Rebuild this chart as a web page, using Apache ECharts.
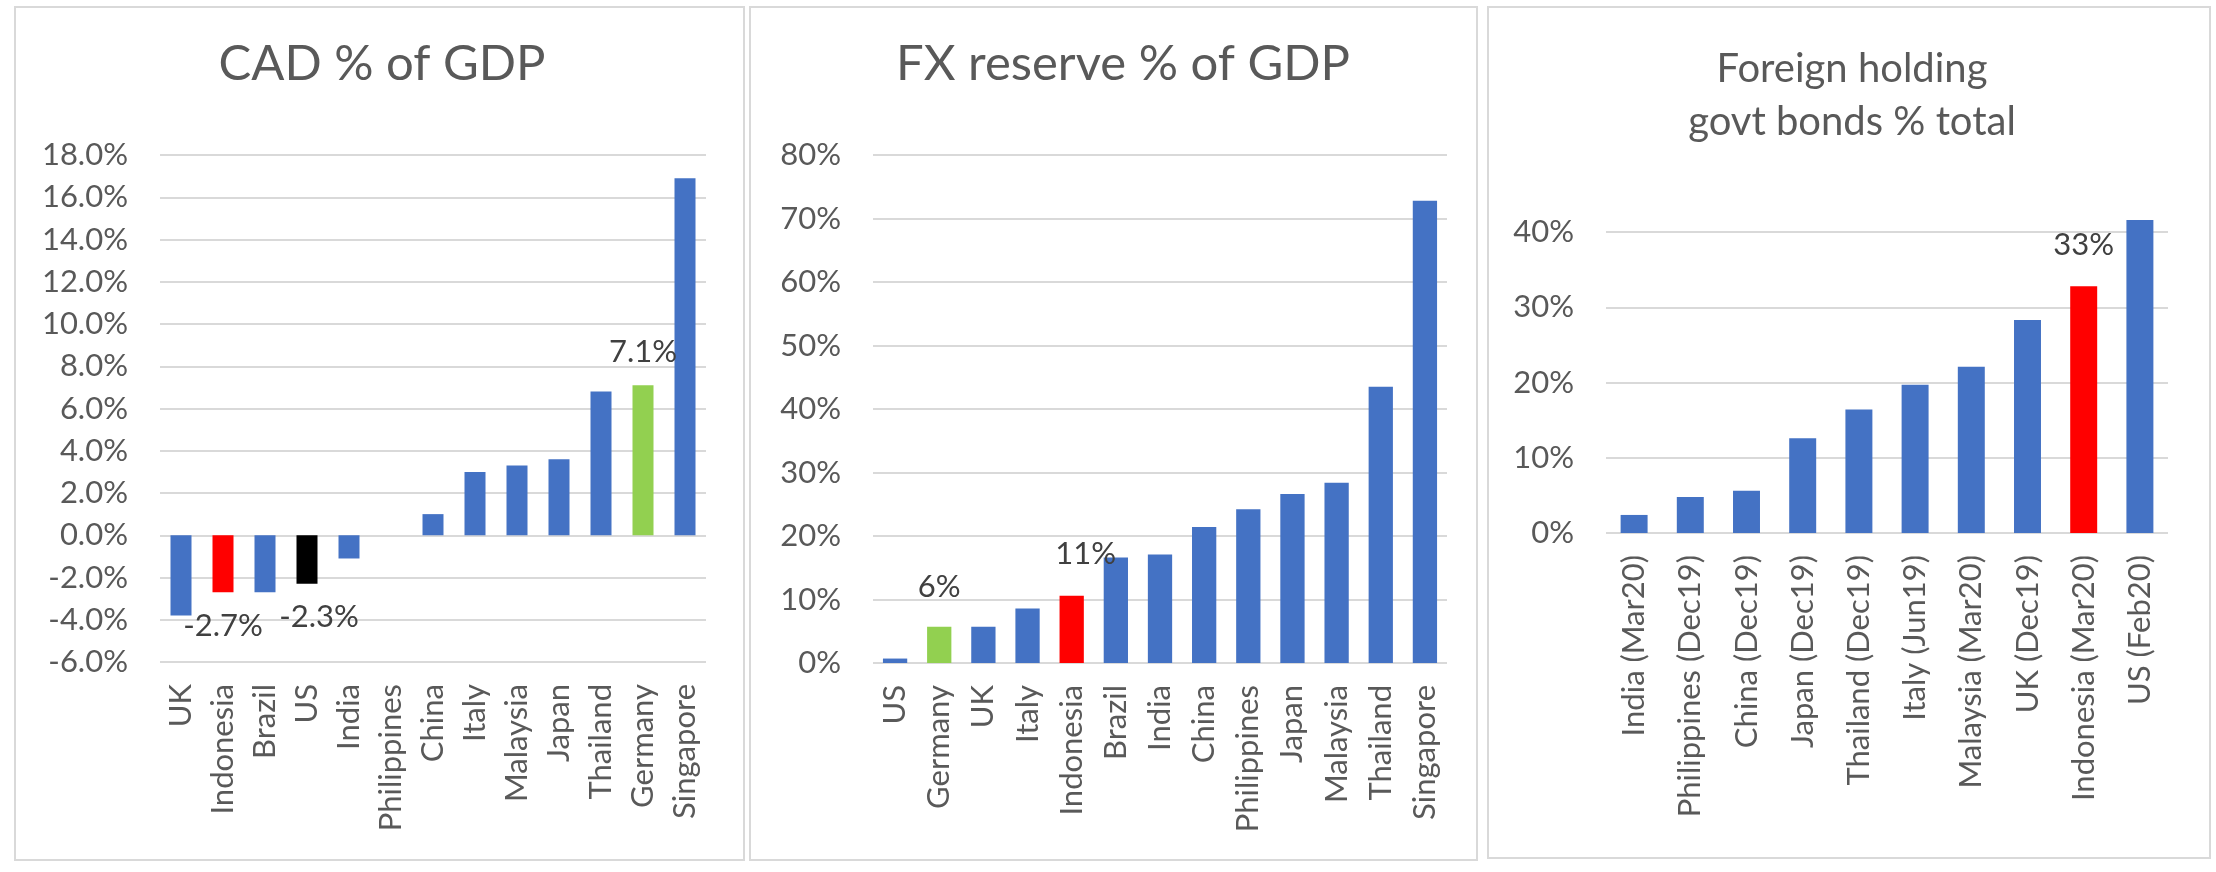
<!DOCTYPE html>
<html>
<head>
<meta charset="utf-8">
<script src="https://cdn.jsdelivr.net/npm/echarts@6/dist/echarts.min.js"></script>
<style>
  html, body { margin: 0; padding: 0; background: #ffffff; }
  #chart { width: 2216px; height: 872px; }
</style>
</head>
<body>
<div id="chart"></div>
<script>
// Current account balance, % of GDP
const cadCountries = ['UK', 'Indonesia', 'Brazil', 'US', 'India', 'Philippines', 'China', 'Italy', 'Malaysia', 'Japan', 'Thailand', 'Germany', 'Singapore'];
const cadValues = [-3.8, -2.7, -2.7, -2.3, -1.1, 0, 1.0, 3.0, 3.3, 3.6, 6.8, 7.1, 16.9];
const cadLabelled = ['Indonesia', 'US', 'Germany'];

// FX reserves, % of GDP
const fxCountries = ['US', 'Germany', 'UK', 'Italy', 'Indonesia', 'Brazil', 'India', 'China', 'Philippines', 'Japan', 'Malaysia', 'Thailand', 'Singapore'];
const fxValues = [0.7, 5.7, 5.7, 8.6, 10.6, 16.6, 17.1, 21.4, 24.2, 26.6, 28.4, 43.5, 72.8];
const fxLabelled = ['Germany', 'Indonesia'];

// Foreign holding of government bonds, % of total
const bondCountries = ['India (Mar20)', 'Philippines (Dec19)', 'China (Dec19)', 'Japan (Dec19)', 'Thailand (Dec19)', 'Italy (Jun19)', 'Malaysia (Mar20)', 'UK (Dec19)', 'Indonesia (Mar20)', 'US (Feb20)'];
const bondValues = [2.4, 4.8, 5.6, 12.6, 16.4, 19.7, 22.1, 28.3, 32.8, 41.6];
const bondLabelled = ['Indonesia (Mar20)'];

// Styling
const FONT = 'Lato';
const BLUE = '#4472C4';
const highlight = { Indonesia: '#FF0000', 'Indonesia (Mar20)': '#FF0000', US: '#000000', Germany: '#92D050' };
const TEXT = '#595959';
const GRID = '#D9D9D9';

function barData(cats, vals, labelled, fmt, labelOpts) {
  return vals.map((v, i) => {
    const name = cats[i];
    // in the CAD panel only US is black; elsewhere US keeps the default blue
    let color = BLUE;
    if (highlight[name] && !(name === 'US' && labelOpts.noBlackUS)) color = highlight[name];
    const item = { value: v, itemStyle: { color } };
    if (labelled.includes(name)) {
      const extra = (labelOpts.perItem && labelOpts.perItem[name]) || {};
      item.label = Object.assign({
        show: true,
        position: v < 0 ? 'bottom' : 'top',
        distance: 18,
        formatter: p => fmt(p.value),
        color: '#404040',
        fontFamily: FONT,
        fontSize: 31
      }, extra);
    }
    return item;
  });
}

function valueAxis(gridIndex, min, max, interval, decimals) {
  return {
    type: 'value', gridIndex, min, max, interval,
    axisLine: { show: false }, axisTick: { show: false },
    axisLabel: {
      color: TEXT, fontFamily: FONT, fontSize: 31, margin: 32,
      formatter: v => v.toFixed(decimals) + '%'
    },
    splitLine: { lineStyle: { color: GRID, width: 2 } }
  };
}

function catAxis(gridIndex, cats) {
  return {
    type: 'category', gridIndex, data: cats,
    axisLine: { show: false, onZero: false }, axisTick: { show: false },
    axisLabel: { rotate: 90, color: TEXT, fontFamily: FONT, fontSize: 31, margin: 22, interval: 0 }
  };
}

const titleStyle = { color: TEXT, fontFamily: FONT, fontWeight: 'normal' };

const chart = echarts.init(document.getElementById('chart'), null, { renderer: 'canvas' });
chart.setOption({
  backgroundColor: '#ffffff',
  animation: false,
  title: [
    { text: 'CAD % of GDP', left: 382, top: 40, textAlign: 'center', padding: 0,
      textStyle: Object.assign({ fontSize: 49 }, titleStyle) },
    { text: 'FX reserve % of GDP', left: 1123, top: 40, textAlign: 'center', padding: 0,
      textStyle: Object.assign({ fontSize: 49 }, titleStyle) },
    { text: 'Foreign holding\ngovt bonds % total', left: 1852, top: 43, textAlign: 'center', padding: 0,
      textStyle: Object.assign({ fontSize: 40, lineHeight: 53 }, titleStyle) }
  ],
  graphic: [
    { type: 'rect', shape: { x: 15, y: 7, width: 729, height: 853 }, style: { fill: null, stroke: GRID, lineWidth: 2 } },
    { type: 'rect', shape: { x: 750, y: 7, width: 727, height: 853 }, style: { fill: null, stroke: GRID, lineWidth: 2 } },
    { type: 'rect', shape: { x: 1488, y: 7, width: 722, height: 851 }, style: { fill: null, stroke: GRID, lineWidth: 2 } }
  ],
  grid: [
    { left: 160, top: 155, width: 546, height: 507 },
    { left: 873, top: 155, width: 574, height: 508 },
    { left: 1606, top: 232, width: 562, height: 301 }
  ],
  xAxis: [catAxis(0, cadCountries), catAxis(1, fxCountries), catAxis(2, bondCountries)],
  yAxis: [
    valueAxis(0, -6, 18, 2, 1),
    valueAxis(1, 0, 80, 10, 0),
    valueAxis(2, 0, 40, 10, 0)
  ],
  series: [
    {
      type: 'bar', xAxisIndex: 0, yAxisIndex: 0, barCategoryGap: '50%',
      data: barData(cadCountries, cadValues, cadLabelled, v => v.toFixed(1) + '%', {
        perItem: { US: { offset: [12, 0] } }
      })
    },
    {
      type: 'bar', xAxisIndex: 1, yAxisIndex: 1, barCategoryGap: '45%',
      data: barData(fxCountries, fxValues, fxLabelled, v => Math.round(v) + '%', {
        noBlackUS: true,
        perItem: { Indonesia: { offset: [14, 0], distance: 26 }, Germany: { distance: 24 } }
      })
    },
    {
      type: 'bar', xAxisIndex: 2, yAxisIndex: 2, barCategoryGap: '52%', clip: false,
      data: barData(bondCountries, bondValues, bondLabelled, v => Math.round(v) + '%', {
        perItem: { 'Indonesia (Mar20)': { distance: 26 } }
      })
    }
  ]
});
</script>
</body>
</html>
